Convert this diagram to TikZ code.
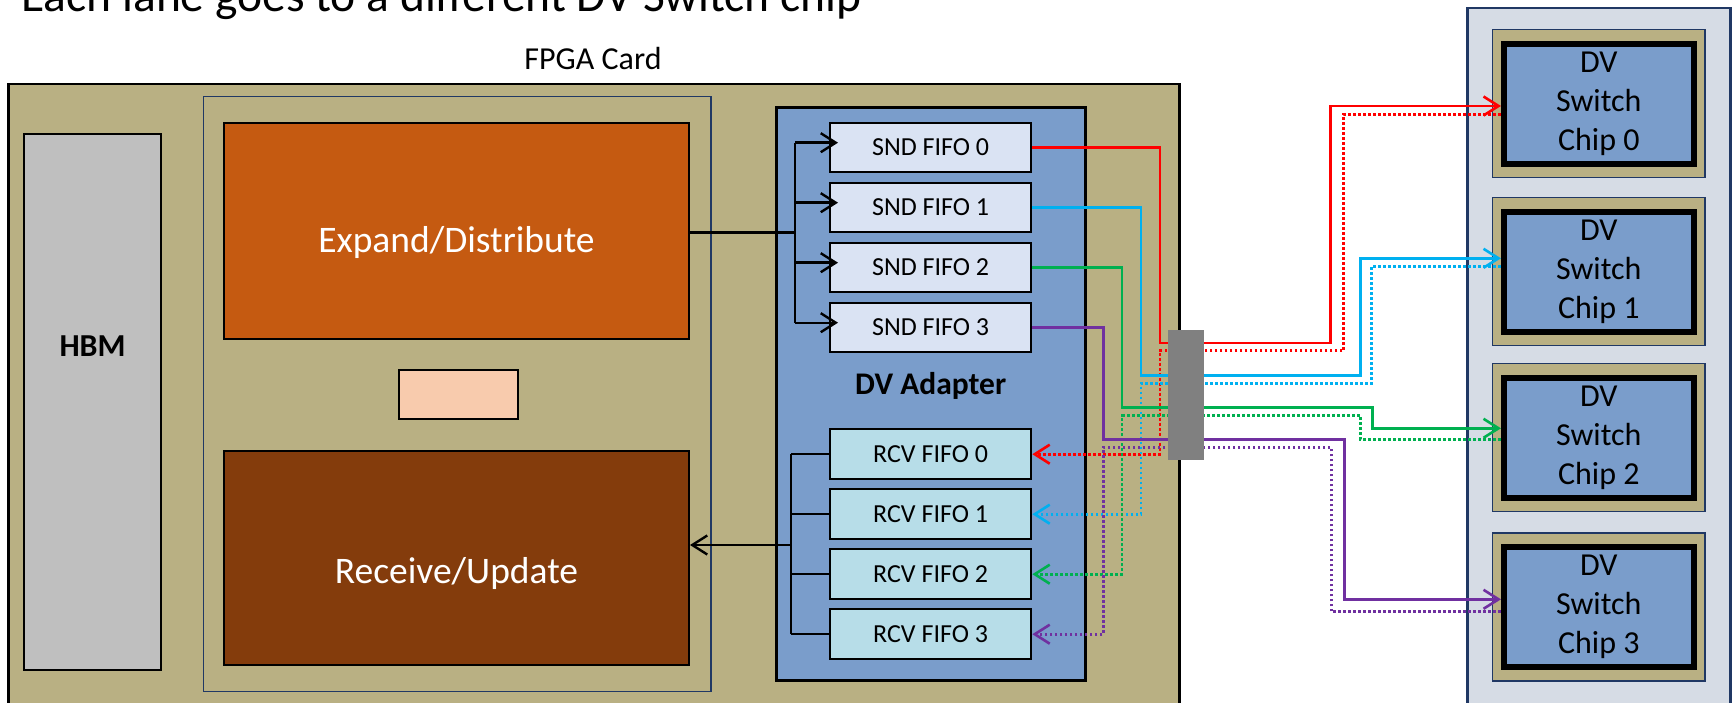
\documentclass[tikz,border=0pt]{standalone}
\usepackage{fontspec}
\setmainfont{Carlito}
\usetikzlibrary{positioning}
\usetikzlibrary{calc}
\usetikzlibrary{arrows.meta}
\definecolor{cardolive}{RGB}{185,176,131}
\definecolor{navy}{RGB}{32,56,100}
\definecolor{hbmgray}{RGB}{191,191,191}
\definecolor{expandor}{RGB}{197,90,17}
\definecolor{recvbrown}{RGB}{132,60,12}
\definecolor{peach}{RGB}{248,203,173}
\definecolor{dvblue}{RGB}{122,157,203}
\definecolor{sndfill}{RGB}{218,227,243}
\definecolor{rcvfill}{RGB}{183,221,232}
\definecolor{panelgray}{RGB}{214,220,229}
\definecolor{plugray}{RGB}{128,128,128}
\definecolor{laneR}{RGB}{255,0,0}
\definecolor{laneC}{RGB}{0,176,240}
\definecolor{laneG}{RGB}{0,176,80}
\definecolor{laneP}{RGB}{112,48,160}

\begin{document}
\begin{tikzpicture}[
    x=1pt, y=-1pt,
    box/.style={draw, line width=2pt, inner sep=0pt, anchor=north west},
    fifo/.style={draw, line width=2pt, inner sep=0pt, minimum width=201.3pt, minimum height=49.5pt, font=\fontsize{26}{31}\selectfont},
    snd/.style={fifo, fill=sndfill},
    rcv/.style={fifo, fill=rcvfill},
    chipframe/.style={draw=navy, line width=1.5pt, fill=cardolive, minimum width=212.5pt, minimum height=148pt},
    chip/.style={draw=black, line width=6pt, fill=dvblue, minimum width=189.7pt, minimum height=120pt, inner sep=0pt, align=center, font=\fontsize{32}{39}\selectfont},
    wire/.style={line width=2.4pt},
    lane/.style={line width=2.6pt},
    back/.style={lane, dash pattern=on 2.6pt off 2.4pt},
    >={Straight Barb[length=15pt,width=19pt]}
]
    \useasboundingbox (0,0) rectangle (1734,703);
    \clip (0,0) rectangle (1734,703);

    \node[anchor=base west, font=\fontsize{47.5}{57}\selectfont] (title) at (18,12) {Each lane goes to a different DV Switch chip};
    \node[anchor=base, font=\fontsize{32}{38}\selectfont] (cardlbl) at (593,69.5) {FPGA Card};

    % FPGA card
    \node[draw, line width=2.5pt, fill=cardolive, minimum width=1171pt, minimum height=639.5pt, anchor=north west] (card) at (7,83) {};
    \node[draw=navy, line width=1.5pt, minimum width=507.6pt, minimum height=594.5pt, anchor=north west] (core) at (202.6,96) {};
    \node[box, fill=hbmgray, minimum width=137.6pt, minimum height=536.4pt] (hbm) at (22.8,132.8) {};
    \node[font=\bfseries\fontsize{32}{38}\selectfont] (hbmlbl) at (92.6,346) {HBM};

    \node[box, fill=expandor, minimum width=465pt, minimum height=215.7pt] (expand) at (223,122.1) {};
    \node[white, font=\fontsize{37.5}{45}\selectfont] (expandlbl) at ($(expand.center)+(0,12)$) {Expand/Distribute};
    \node[box, fill=peach, minimum width=119.2pt, minimum height=48.8pt] (buf) at (397.5,369.2) {};
    \node[box, fill=recvbrown, minimum width=465pt, minimum height=214.9pt] (receive) at (223,449.5) {};
    \node[white, font=\fontsize{37.5}{45}\selectfont] (receivelbl) at ($(receive.center)+(0,16)$) {Receive/Update};

    % DV adapter
    \node[draw, line width=3pt, fill=dvblue, minimum width=308.7pt, minimum height=573.3pt, anchor=north west] (adapter) at (775,105.7) {};
    \node[font=\bfseries\fontsize{31.5}{38}\selectfont] (adaptlbl) at (930.7,386) {DV Adapter};

    \node[snd] (snd0) at (930.65,147.3) {SND FIFO 0};
    \node[snd] (snd1) at (930.65,207.3) {SND FIFO 1};
    \node[snd] (snd2) at (930.65,267.3) {SND FIFO 2};
    \node[snd] (snd3) at (930.65,327.3) {SND FIFO 3};
    \node[rcv] (rcv0) at (930.65,454.2) {RCV FIFO 0};
    \node[rcv] (rcv1) at (930.65,514.2) {RCV FIFO 1};
    \node[rcv] (rcv2) at (930.65,574.2) {RCV FIFO 2};
    \node[rcv] (rcv3) at (930.65,634.2) {RCV FIFO 3};

    % switch chips
    \node[draw=navy, line width=2.5pt, fill=panelgray, minimum width=263.2pt, minimum height=716pt, anchor=north west] (panel) at (1466,6.7) {};
    \node[chipframe] (frame0) at (1598.8,103.7) {};
    \node[chipframe] (frame1) at (1598.8,271.7) {};
    \node[chipframe] (frame2) at (1598.8,437.7) {};
    \node[chipframe] (frame3) at (1598.8,607) {};
    \node[chip] (chip0) at (frame0) {DV\\Switch\\Chip 0};
    \node[chip] (chip1) at (frame1) {DV\\Switch\\Chip 1};
    \node[chip] (chip2) at (frame2) {DV\\Switch\\Chip 2};
    \node[chip] (chip3) at (frame3) {DV\\Switch\\Chip 3};

    % send and receive buses
    \coordinate (sndbus) at (795,232.7);
    \coordinate (rcvbus) at (791,545);
    \draw[wire] (expand.east |- sndbus) -- (sndbus);
    \draw[wire] ($(sndbus |- snd0.west)+(0,-4.6)$) -- ($(sndbus |- snd3.west)+(0,-4.6)$);
    \foreach \i in {0,...,3}
        \draw[wire, ->] ($(sndbus |- snd\i.west)+(0,-4.6)$) -- ($(snd\i.west)+(9,-4.6)$);
    \draw[wire] (rcvbus |- rcv0.west) -- (rcvbus |- rcv3.west);
    \foreach \i in {0,...,3}
        \draw[wire] (rcvbus |- rcv\i.west) -- (rcv\i.west);
    \draw[wire, ->] (rcvbus) -- (receive.east |- rcvbus);

    % lanes
    \draw[lane, laneR, ->] (snd0.east) -| (1160,343) -| (1330.6,106) -- (chip0.west |- 0,106);
    \draw[back, laneR, ->] (chip0.west |- 0,114.3) -| (1343.7,350.7) -| (1160,454.2) -- (rcv0.east);
    \draw[lane, laneC, ->] (snd1.east) -| (1141,375.5) -| (1360.4,258.3) -- (chip1.west |- 0,258.3);
    \draw[back, laneC, ->] (chip1.west |- 0,266.7) -| (1371.6,383.3) -| (1141,514.2) -- (rcv1.east);
    \draw[lane, laneG, ->] (snd2.east) -| (1122,407.3) -| (1372.3,428.3) -- (chip2.west |- 0,428.3);
    \draw[back, laneG, ->] (chip2.west |- 0,439.3) -| (1360.4,415.7) -| (1122,574.2) -- (rcv2.east);
    \draw[lane, laneP, ->] (snd3.east) -| (1103.5,439.3) -| (1344.4,599.3) -- (chip3.west |- 0,599.3);
    \draw[back, laneP, ->] (chip3.west |- 0,611.7) -| (1331.4,447.3) -| (1103.5,634.2) -- (rcv3.east);

    \node[fill=plugray, inner sep=0pt, minimum width=36pt, minimum height=130pt, anchor=north west] (plug) at (1168,330) {};
\end{tikzpicture}
\end{document}
